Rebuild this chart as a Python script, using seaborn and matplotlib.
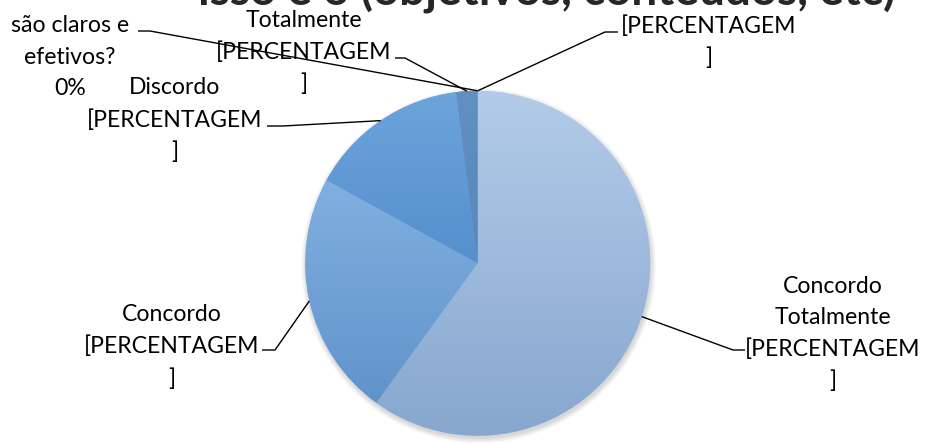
import numpy as np
import matplotlib
matplotlib.use("Agg")
import matplotlib.pyplot as plt
import seaborn as sns
from matplotlib.colors import LinearSegmentedColormap
from matplotlib.patches import Circle

# ---------------- data ----------------
categories = ["Concordo Totalmente", "Concordo", "Discordo", "Discordo Totalmente",
              "são claros e efetivos?", ""]
values = [60, 23, 15, 2, 0, 0]
category_display = ["Concordo\nTotalmente", "Concordo", "Discordo", "Discordo\nTotalmente",
                    "são claros e\nefetivos?", ""]
value_labels = ["[PERCENTAGEM\n]", "[PERCENTAGEM\n]", "[PERCENTAGEM\n]", "[PERCENTAGEM\n]",
                "0%", "[PERCENTAGEM\n]"]
title_lines = ["Você considera que o conteúdo do processo e", "isso é o (objetivos, conteúdos, etc)"]

# ---------------- style ----------------
sns.set_theme(style="white")
plt.rcParams['font.family'] = ['Lato', 'DejaVu Sans']

grad_colors = [("#B3CBE9", "#87A7CF"),   # Concordo Totalmente
               ("#8EBBE8", "#5C8FC8"),   # Concordo
               ("#6CA4DC", "#3E7BBD"),   # Discordo
               ("#6290C2", "#4A7DB7"),   # Discordo Totalmente
               ("#4F81BD", "#4F81BD"),
               ("#4F81BD", "#4F81BD")]
base_colors = [c[0] for c in grad_colors]

W, H = 926, 443
cx, cy, R = 477.7, H - 263.3, 172.5

# label block centres (pixel coords, y from top) and leader elbows
label_pos = [(833, 334), (172, 347), (175, 120), (304, 37), (70, 57), (709, 42)]
leader_elbow = [((733, 350), (745, 350)),
                ((275, 350), (262, 350)),
                ((283, 126), (267, 126)),
                ((405, 58), (395, 58)),
                ((150, 31), (138, 31)),
                ((605, 32), (618, 32))]

fig = plt.figure(figsize=(W / 100, H / 100), dpi=100)
ax = fig.add_axes([0, 0, 1, 1])

# soft shadow
for i in range(8):
    ax.add_patch(Circle((cx + 1.0, cy - 2.5), R + 0.7 * i, facecolor="black",
                        alpha=0.02, edgecolor="none", zorder=0))

wedges, _ = ax.pie(values, startangle=90, counterclock=False, center=(cx, cy), radius=R,
                   colors=base_colors, wedgeprops=dict(linewidth=0))

grad = np.linspace(0, 1, 256).reshape(-1, 1)
for w, (ctop, cbot) in zip(wedges, grad_colors):
    w.set_zorder(2)
    if w.theta2 - w.theta1 <= 0:
        continue
    cmap = LinearSegmentedColormap.from_list("g", [ctop, cbot])
    im = ax.imshow(grad, cmap=cmap, extent=(cx - R, cx + R, cy - R, cy + R),
                   origin="upper", aspect="auto", zorder=3)
    im.set_clip_path(w)

ax.set_xlim(0, W)
ax.set_ylim(0, H)
ax.axis("off")

renderer = fig.canvas.get_renderer()

# fit label font size so "[PERCENTAGEM" is ~175 px wide
probe = ax.text(0, 0, "[PERCENTAGEM", fontsize=16)
wpx = probe.get_window_extent(renderer).width
fs = 16 * 175.0 / wpx
probe.remove()
p1 = ax.text(0, 0, "A", fontsize=fs)
p2 = ax.text(0, 0, "A\nA", fontsize=fs, linespacing=1.2)
dy = p2.get_window_extent(renderer).height - p1.get_window_extent(renderer).height
ls = 1.2 * 32.5 / dy
p1.remove(); p2.remove()

for w, cat, val, (lx, ly), (elbow, stub) in zip(wedges, category_display, value_labels,
                                                label_pos, leader_elbow):
    txt = (cat + "\n" + val) if cat else val
    ax.text(lx, H - ly, txt, fontsize=fs, ha="center", va="center",
            multialignment="center", linespacing=ls, color="black", zorder=5)
    mid = np.deg2rad((w.theta1 + w.theta2) / 2.0)
    px, py = cx + R * np.cos(mid), cy + R * np.sin(mid)
    ax.plot([px, elbow[0], stub[0]], [py, H - elbow[1], H - stub[1]],
            color="black", lw=1.0, zorder=6, solid_capstyle="butt")

# title (mostly clipped at the top of the canvas)
tp = ax.text(0, 0, "(objetivos, conteúdos, etc)", fontsize=20, fontweight="bold")
tw = tp.get_window_extent(renderer).width
tfs = 20 * 535.0 / tw
tp.remove()
ax.text(896, H - 13, title_lines[1], fontsize=tfs, fontweight="bold",
        ha="right", va="bottom", zorder=5)
ax.text(463, H - 13 + tfs * 1.75, title_lines[0], fontsize=tfs, fontweight="bold",
        ha="center", va="bottom", zorder=5)

fig.savefig("out.png", dpi=100)
